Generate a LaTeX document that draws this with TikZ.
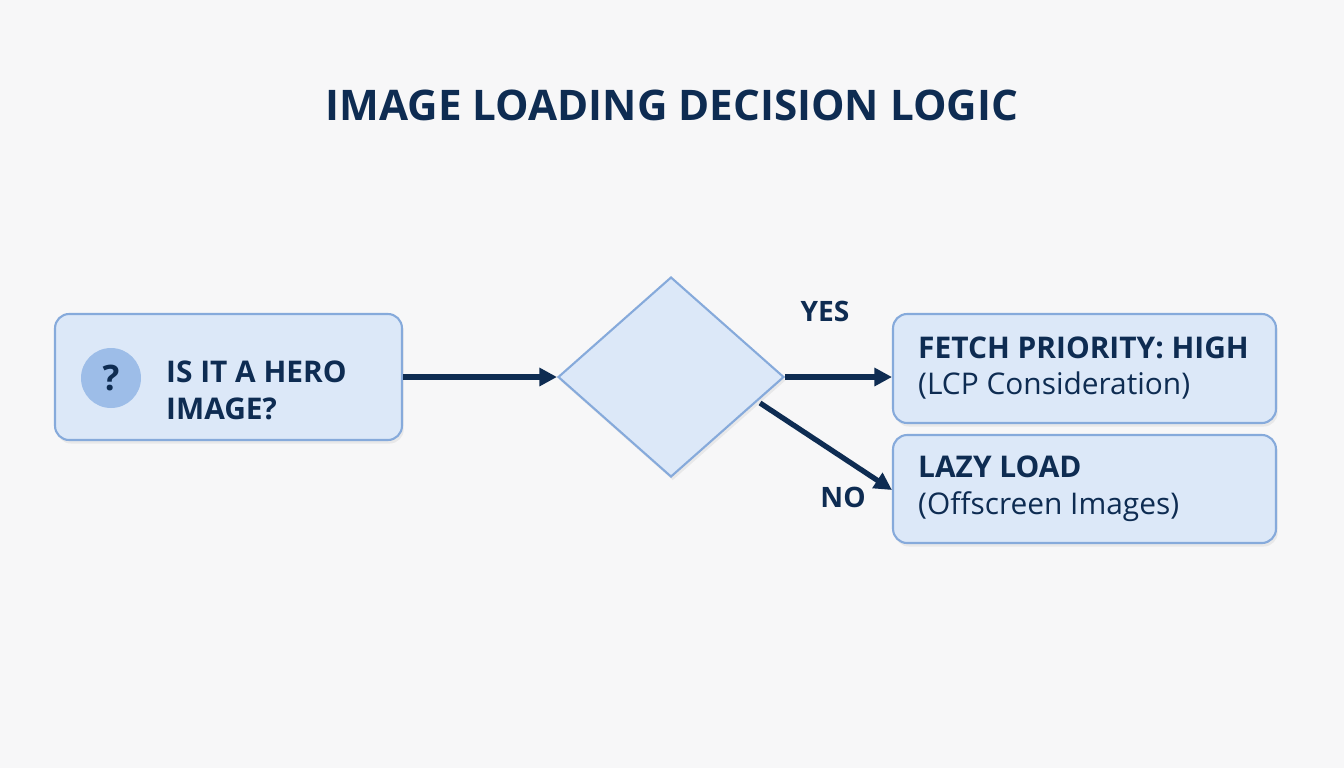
\documentclass[tikz,border=0pt]{standalone}
\usepackage{fontspec}
\setmainfont{Open Sans}
\usetikzlibrary{shapes.geometric,arrows.meta,positioning,shadows}
\definecolor{bgc}{HTML}{F7F7F8}
\definecolor{boxfill}{HTML}{DCE8F8}
\definecolor{boxline}{HTML}{86AADB}
\definecolor{navy}{HTML}{0E2C52}
\definecolor{qfill}{HTML}{9DBDE8}
\begin{document}
\begin{tikzpicture}[x=0.02cm, y=-0.02cm, >={Triangle[length=10pt,width=10pt]},
  box/.style={draw=boxline, fill=boxfill, line width=1.2pt, rounded corners=8pt,
    drop shadow={opacity=0.12, shadow xshift=1pt, shadow yshift=-2pt}},
  txt/.style={text=navy, font=\fontsize{17}{21}\selectfont, align=left, anchor=west},
  link/.style={->, draw=navy, line width=3pt}]
  \fill[bgc] (0,0) rectangle (1344,768);
  \node[text=navy, font=\bfseries\fontsize{24}{28}\selectfont] (title) at (672,105) {IMAGE LOADING DECISION LOGIC};
  % boxes
  \node[box, minimum width=6.94cm, minimum height=2.52cm] (hero) at (228.5,377) {};
  \node[box, diamond, rounded corners=0pt, minimum width=4.52cm, minimum height=4.0cm, inner sep=0pt] (choice) at (671,377) {};
  \node[box, minimum width=7.66cm, minimum height=2.18cm] (high) at (1084.5,368.5) {};
  \node[box, minimum width=7.66cm, minimum height=2.16cm] (lazy) at (1084.5,489) {};
  % texts
  \node[circle, fill=qfill, minimum size=1.2cm, text=navy, font=\bfseries\fontsize{20}{20}\selectfont] (q) at (111,378) {?};
  \node[txt, font=\bfseries\fontsize{17}{21}\selectfont] (herotxt) at (160,390) {IS IT A HERO\\IMAGE?};
  \node[txt] (hightxt) at (912,368) {\textbf{FETCH PRIORITY: HIGH}\\(LCP Consideration)};
  \node[txt] (lazytxt) at (912,489) {\textbf{LAZY LOAD}\\(Offscreen Images)};
  \coordinate (split) at (760,403);
  % links
  \draw[link] (hero.east) -- (choice.west);
  \draw[link] (choice.east) -- (high.west |- choice.east);
  \draw[link] (split) -- (lazy.west |- 0,490);
  \node[text=navy, font=\bfseries\fontsize{16}{20}\selectfont] (yes) at (825,311) {YES};
  \node[text=navy, font=\bfseries\fontsize{16}{20}\selectfont] (no) at (843,497) {NO};
\end{tikzpicture}
\end{document}
